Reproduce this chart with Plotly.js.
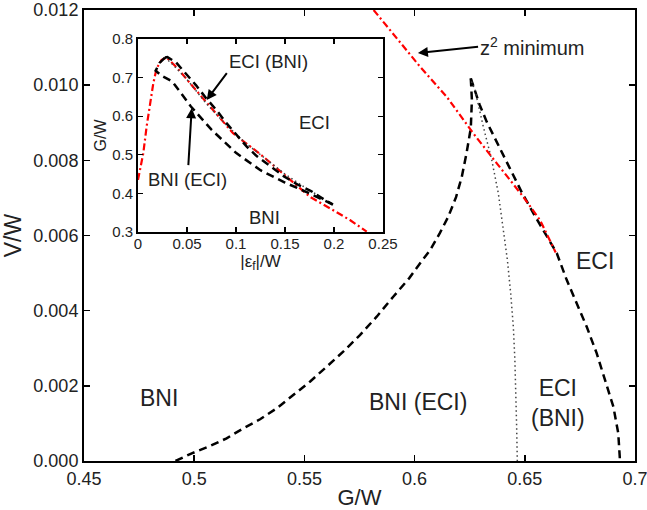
<!DOCTYPE html>
<html>
<head>
<meta charset="utf-8">
<script src="https://cdn.plot.ly/plotly-3.0.1.min.js"></script>
<style>html,body{margin:0;padding:0;background:#fff;}#chart{width:647px;height:510px;}</style>
</head>
<body>
<div id="chart"></div>
<script>
// ---- main panel data (G/W vs V/W) ----
const leftG = [0.4915, 0.4989, 0.5072, 0.5147, 0.5223, 0.5299, 0.5374, 0.5450, 0.5525, 0.5601, 0.5676, 0.5752, 0.5828, 0.5903, 0.5975, 0.6030, 0.6070, 0.6115, 0.6152, 0.6188, 0.6214, 0.6236, 0.6255, 0.6260, 0.6255];
const leftV = [0, 0.000204, 0.000399, 0.000603, 0.00087, 0.00111, 0.00140, 0.00176, 0.00211, 0.00251, 0.00291, 0.00335, 0.00384, 0.00437, 0.00486, 0.00530, 0.00561, 0.00607, 0.00649, 0.00702, 0.00756, 0.00820, 0.00886, 0.00961, 0.01018];
const rightG = [0.6255, 0.6275, 0.6295, 0.6327, 0.6385, 0.6435, 0.6487, 0.6548, 0.6600, 0.6645, 0.6690, 0.6735, 0.6781, 0.6826, 0.6864, 0.6902, 0.6924, 0.6932];
const rightV = [0.01018, 0.00985, 0.00948, 0.00903, 0.00835, 0.00772, 0.00714, 0.00650, 0.00598, 0.00553, 0.00482, 0.00420, 0.00357, 0.00287, 0.00216, 0.00144, 0.00074, 0.0];
const dotG = [0.6258, 0.6274, 0.6312, 0.6350, 0.6380, 0.6402, 0.6421, 0.6436, 0.6448, 0.6455, 0.6460, 0.6463, 0.6466];
const dotV = [0.01010, 0.00987, 0.00889, 0.00801, 0.00712, 0.00623, 0.00535, 0.00446, 0.00357, 0.00269, 0.00180, 0.00091, 0.0];
const zminG = [0.5814, 0.5851, 0.6025, 0.6146, 0.6266, 0.6373, 0.6493, 0.6569, 0.6640];
const zminV = [0.0120, 0.01173, 0.01049, 0.00969, 0.00872, 0.00792, 0.00703, 0.00641, 0.00555];

// ---- inset data (|eps_f|/W vs G/W) ----
const inUpE = [0.0275, 0.030, 0.0386, 0.049, 0.0593, 0.0697, 0.080, 0.0903, 0.1007, 0.111, 0.1214, 0.135, 0.149, 0.1628, 0.1766, 0.190, 0.199];
const inUpG = [0.752, 0.753, 0.740, 0.710, 0.680, 0.646, 0.616, 0.582, 0.552, 0.521, 0.496, 0.470, 0.444, 0.423, 0.406, 0.384, 0.371];
const inLoE = [0.0275, 0.022, 0.018, 0.024, 0.035, 0.054, 0.075, 0.100, 0.125, 0.150, 0.175, 0.199];
const inLoG = [0.752, 0.738, 0.718, 0.705, 0.690, 0.625, 0.565, 0.505, 0.460, 0.428, 0.400, 0.371];
const inDotE = [0.0275, 0.035, 0.050, 0.070, 0.090, 0.110, 0.130, 0.150, 0.170, 0.190];
const inDotG = [0.752, 0.735, 0.695, 0.632, 0.578, 0.530, 0.490, 0.450, 0.416, 0.385];
const inRedE = [0.0, 0.0054, 0.0088, 0.0122, 0.0156, 0.019, 0.0241, 0.0293, 0.040, 0.060, 0.080, 0.097, 0.128, 0.155, 0.1755, 0.196, 0.2163, 0.2334];
const inRedG = [0.435, 0.504, 0.573, 0.633, 0.685, 0.724, 0.746, 0.752, 0.725, 0.665, 0.605, 0.556, 0.495, 0.435, 0.391, 0.361, 0.331, 0.301];

// ---- tick labels ----
const mainXTicks = [0.45, 0.5, 0.55, 0.6, 0.65, 0.7];
const mainYTicks = [0, 0.002, 0.004, 0.006, 0.008, 0.010, 0.012];
const inXTicks = [0, 0.05, 0.1, 0.15, 0.2, 0.25];
const inYTicks = [0.3, 0.4, 0.5, 0.6, 0.7, 0.8];

const FONT = 'Liberation Sans, Arial, Helvetica, sans-serif';
const TXT = '#222';
const dashBlack = {color: '#000', width: 2.5, dash: '8px,5px'};
const dotGrey = {color: '#444', width: 1.5, dash: '1.5px,3px'};
const redDD = {color: '#ff0000', width: 2.2, dash: '7px,3px,2px,3px'};

function tr(x, y, line, xa, ya) {
  return {x: x, y: y, mode: 'lines', line: line, xaxis: xa, yaxis: ya, hoverinfo: 'skip', showlegend: false};
}

const data = [
  tr(inRedE, inRedG, redDD, 'x2', 'y2'),
  tr(inDotE, inDotG, dotGrey, 'x2', 'y2'),
  tr(inUpE, inUpG, dashBlack, 'x2', 'y2'),
  tr(inLoE, inLoG, dashBlack, 'x2', 'y2'),
  tr(leftG, leftV, dashBlack, 'x', 'y'),
  tr(rightG, rightV, dashBlack, 'x', 'y'),
  tr(dotG, dotV, dotGrey, 'x', 'y'),
  tr(zminG, zminV, redDD, 'x', 'y')
];

const axCommon = {
  showline: true, linecolor: '#000', mirror: 'ticks', ticks: 'inside',
  tickcolor: '#000', showgrid: false, zeroline: false, fixedrange: true,
  ticklabeloverflow: 'allow'
};

function lab(text, x, y, xr, yr, size) {
  return {text: text, x: x, y: y, xref: xr, yref: yr, showarrow: false,
          font: {family: FONT, size: size, color: TXT}, xanchor: 'center', yanchor: 'middle'};
}
function arr(text, x, y, ax, ay, xr, yr, size, xanchor) {
  return {text: text, x: x, y: y, ax: ax, ay: ay, xref: xr, yref: yr, axref: xr, ayref: yr,
          showarrow: true, arrowhead: 2, arrowsize: 1, arrowwidth: 2, arrowcolor: '#000',
          standoff: 0, startstandoff: 0,
          font: {family: FONT, size: size, color: TXT}, xanchor: xanchor || 'center', yanchor: 'middle'};
}

const layout = {
  width: 647, height: 510,
  margin: {l: 84, r: 12, t: 10, b: 49},
  paper_bgcolor: '#fff', plot_bgcolor: '#fff',
  showlegend: false,
  font: {family: FONT, color: TXT},
  xaxis: Object.assign({}, axCommon, {
    domain: [0, 1], range: [0.45, 0.7], tickvals: mainXTicks, ticktext: mainXTicks.map(String),
    ticklen: 6, linewidth: 2, tickwidth: 1.5, tickfont: {family: FONT, size: 18, color: TXT},
    title: {text: 'G/W', font: {family: FONT, size: 22, color: TXT}, standoff: 6}
  }),
  yaxis: Object.assign({}, axCommon, {
    domain: [0, 1], range: [0, 0.012], tickvals: mainYTicks, ticktext: mainYTicks.map(v => v.toFixed(3)),
    ticklen: 6, linewidth: 2, tickwidth: 1.5, tickfont: {family: FONT, size: 18, color: TXT},
    title: {text: 'V/W', font: {family: FONT, size: 23, color: TXT}, standoff: 6}
  }),
  xaxis2: Object.assign({}, axCommon, {
    domain: [0.098, 0.5426], anchor: 'y2', range: [0, 0.25], tickvals: inXTicks, ticktext: inXTicks.map(String),
    ticklen: 5, linewidth: 1.8, tickwidth: 1.2, tickfont: {family: FONT, size: 15, color: TXT},
    ticklabelstandoff: -3,
    title: {text: '|ε<sub>f</sub>|/W', font: {family: FONT, size: 17, color: TXT}, standoff: 0}
  }),
  yaxis2: Object.assign({}, axCommon, {
    domain: [0.5078, 0.9357], anchor: 'x2', range: [0.3, 0.8], tickvals: inYTicks, ticktext: inYTicks.map(String),
    ticklen: 5, linewidth: 1.8, tickwidth: 1.2, tickfont: {family: FONT, size: 15, color: TXT},
    title: {text: 'G/W', font: {family: FONT, size: 16, color: TXT}, standoff: 2}
  }),
  annotations: [
    lab('BNI', 0.484, 0.00168, 'x', 'y', 23),
    lab('BNI (ECI)', 0.6015, 0.00157, 'x', 'y', 23),
    lab('ECI<br>(BNI)', 0.665, 0.00154, 'x', 'y', 23),
    lab('ECI', 0.6818, 0.00531, 'x', 'y', 23),
    arr('z<sup>2</sup> minimum', 0.6015, 0.010856, 0.6288, 0.01102, 'x', 'y', 20, 'left'),
    lab('ECI (BNI)', 0.1327, 0.7417, 'x2', 'y2', 18.5),
    lab('ECI', 0.1806, 0.5824, 'x2', 'y2', 18.5),
    lab('BNI (ECI)', 0.051, 0.4347, 'x2', 'y2', 18.5),
    lab('BNI', 0.1296, 0.3363, 'x2', 'y2', 18.5),
    arr('', 0.0701, 0.642, 0.0918, 0.7153, 'x2', 'y2', 18),
    arr('', 0.0548, 0.6205, 0.0513, 0.4692, 'x2', 'y2', 18)
  ]
};

Plotly.newPlot('chart', data, layout, {staticPlot: true, displayModeBar: false});
</script>
</body>
</html>
